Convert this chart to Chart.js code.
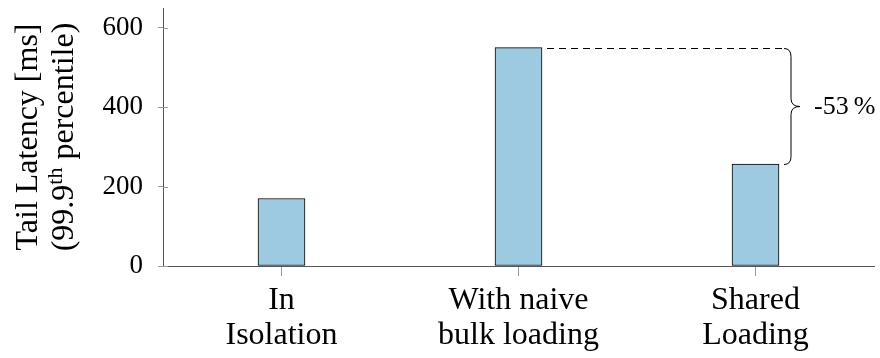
<!DOCTYPE html>
<html>
<head>
<meta charset="utf-8">
<script src="https://cdn.jsdelivr.net/npm/chart.js@4"></script>
<style>
  html, body { margin: 0; padding: 0; background: #fff; }
  canvas { display: block; }
</style>
</head>
<body>
<canvas id="c" width="880" height="358"></canvas>
<script>
// Tail latency per loading strategy
const categories = [["In", "Isolation"], ["With naive", "bulk loading"], ["Shared", "Loading"]];
const latencyMs = [170, 550, 257];
const yTickValues = [0, 200, 400, 600];
const yTitleLine1 = "Tail Latency [ms]";
const yTitleLine2 = ["(99.9", "th", " percentile)"]; // middle part is superscript

const FONT = "'Liberation Serif', 'Times New Roman', serif";
const barFill = '#9ecae1';

// Compare the naive bulk loading bar against shared loading
const fromIdx = 1, toIdx = 2;

const overlay = {
  id: 'overlay',
  afterDraw(chart) {
    const ctx = chart.ctx;
    const y = chart.scales.y;
    const area = chart.chartArea;
    const bars = chart.getDatasetMeta(0).data;

    ctx.save();
    // inward halves of the y ticks
    ctx.strokeStyle = '#999';
    ctx.lineWidth = 1;
    yTickValues.forEach(v => {
      const py = Math.round(y.getPixelForValue(v)) + 0.5;
      ctx.beginPath();
      ctx.moveTo(area.left, py);
      ctx.lineTo(area.left + 5, py);
      ctx.stroke();
    });

    // dashed reference line at the top of the naive bar
    const hiVal = latencyMs[fromIdx], loVal = latencyMs[toIdx];
    const yHi = Math.round(y.getPixelForValue(hiVal)) + 0.5;
    const yLo = Math.round(y.getPixelForValue(loVal)) + 0.5;
    const hiBar = bars[fromIdx], loBar = bars[toIdx];
    const x0 = loBar.x + loBar.width / 2 + 5;
    ctx.strokeStyle = '#000';
    ctx.setLineDash([7, 5]);
    ctx.beginPath();
    ctx.moveTo(hiBar.x + hiBar.width / 2 + 5, yHi);
    ctx.lineTo(x0 - 2, yHi);
    ctx.stroke();
    ctx.setLineDash([]);

    // curly brace spanning the two values
    const xm = x0 + 7, xt = x0 + 16, r = 8;
    const mid = (yHi + yLo) / 2;
    ctx.beginPath();
    ctx.moveTo(x0, yHi);
    ctx.quadraticCurveTo(xm, yHi, xm, yHi + r);
    ctx.lineTo(xm, mid - r);
    ctx.quadraticCurveTo(xm, mid, xt, mid);
    ctx.quadraticCurveTo(xm, mid, xm, mid + r);
    ctx.lineTo(xm, yLo - r);
    ctx.quadraticCurveTo(xm, yLo, x0, yLo);
    ctx.stroke();

    // relative change label
    const pct = Math.round((loVal - hiVal) / hiVal * 100);
    ctx.fillStyle = '#000';
    ctx.font = '26px ' + FONT;
    ctx.textAlign = 'left';
    ctx.textBaseline = 'middle';
    ctx.fillText(pct + '\u2009%', xt + 14, mid + 1);

    // rotated two-line y axis title
    const cy = (area.top + area.bottom) / 2;
    ctx.translate(0, cy);
    ctx.rotate(-Math.PI / 2);
    ctx.textBaseline = 'alphabetic';
    ctx.textAlign = 'center';
    ctx.font = '32px ' + FONT;
    ctx.fillText(yTitleLine1, 0, 37);

    const mainFont = '32px ' + FONT, supFont = '22px ' + FONT;
    ctx.font = mainFont; const w0 = ctx.measureText(yTitleLine2[0]).width;
    ctx.font = supFont;  const w1 = ctx.measureText(yTitleLine2[1]).width;
    ctx.font = mainFont; const w2 = ctx.measureText(yTitleLine2[2]).width;
    let sx = -(w0 + w1 + w2) / 2;
    ctx.textAlign = 'left';
    ctx.font = mainFont; ctx.fillText(yTitleLine2[0], sx, 73); sx += w0;
    ctx.font = supFont;  ctx.fillText(yTitleLine2[1], sx, 73 - 11); sx += w1;
    ctx.font = mainFont; ctx.fillText(yTitleLine2[2], sx, 73);
    ctx.restore();
  }
};

new Chart(document.getElementById('c'), {
  type: 'bar',
  data: {
    labels: categories,
    datasets: [{
      data: latencyMs,
      backgroundColor: barFill,
      borderColor: '#000',
      borderWidth: 1,
      borderSkipped: false,
      barThickness: 47
    }]
  },
  options: {
    responsive: false,
    animation: false,
    devicePixelRatio: 1,
    layout: { padding: { left: 0, right: 6, top: 8, bottom: 0 } },
    plugins: { legend: { display: false }, tooltip: { enabled: false } },
    scales: {
      x: {
        offset: true,
        grid: { display: true, drawOnChartArea: false, offset: false, tickLength: 10, color: '#999' },
        border: { display: true, color: '#555', width: 1 },
        ticks: {
          color: '#000',
          padding: 7,
          maxRotation: 0,
          autoSkip: false,
          font: { family: FONT, size: 32, lineHeight: 1.1 }
        },
        afterFit(scale) {
          scale.height = 92;
          scale.paddingLeft = 0;
          scale.paddingRight = 0;
        }
      },
      y: {
        min: 0,
        max: 650,
        grid: { display: true, drawOnChartArea: false, tickLength: 5, color: '#999' },
        border: { display: true, color: '#555', width: 1 },
        ticks: {
          stepSize: 200,
          color: '#000',
          padding: 15,
          font: { family: FONT, size: 27 }
        },
        afterBuildTicks(scale) {
          scale.ticks = yTickValues.map(v => ({ value: v }));
        },
        afterFit(scale) {
          scale.width = 163;
          scale.paddingTop = 0;
          scale.paddingBottom = 0;
        }
      }
    }
  },
  plugins: [overlay]
});
</script>
</body>
</html>
